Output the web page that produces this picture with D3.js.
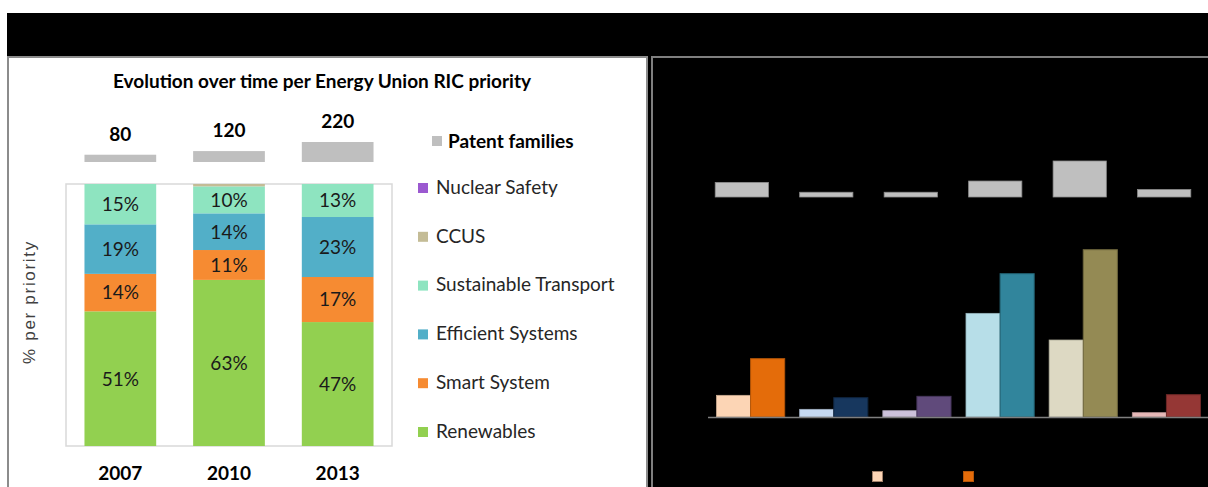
<!DOCTYPE html>
<html>
<head>
<meta charset="utf-8">
<script src="https://cdn.jsdelivr.net/npm/d3@7"></script>
<style>
  body { margin: 0; background: #fff; }
  text { font-family: Lato, "Open Sans", sans-serif; }
</style>
</head>
<body>
<script>
//Datos del panel izquierdo
var anios = ["2007", "2010", "2013"];
var familiasPatentes = [80, 120, 220];

var prioridades = ["Renewables", "Smart System", "Efficient Systems", "Sustainable Transport", "CCUS", "Nuclear Safety"];
var coloresPrioridad = ["#92d050", "#f68b32", "#52afc8", "#8ee4c0", "#c4bc96", "#9b59d0"];

//porcentaje por prioridad (mismo orden que 'prioridades'), un arreglo por anio
var porcentaje2007 = [51.4, 14.3, 18.9, 15.4, 0, 0];
var porcentaje2010 = [63.4, 11.4, 14.0, 10.3, 0.9, 0];
var porcentaje2013 = [47.3, 17.2, 22.9, 12.6, 0, 0];

//Datos del panel derecho (6 prioridades, dos series + familias de patentes)
var gruposDerecha = ["G1", "G2", "G3", "G4", "G5", "G6"];
var patentesDerecha = [43, 14, 14, 47, 106, 22];
var serieClara  = [65, 23, 19, 311, 231, 13];
var serieOscura = [175, 58, 62, 430, 502, 67];
var coloresClaros  = ["#fcd5b5", "#c6d9f1", "#ccc1da", "#b7dee8", "#ddd9c3", "#e6b9b8"];
var coloresOscuros = ["#e46c0a", "#17375e", "#604a7b", "#31859c", "#948a54", "#953735"];
var bordesOscuros  = ["#b45508", "#0f2540", "#47365c", "#236373", "#6f673e", "#6e2827"];

var svg = d3.select("body").append("svg")
            .attr("width", 1208)
            .attr("height", 487);

//Fondo negro y paneles
svg.append("rect").attr("x", 7).attr("y", 13).attr("width", 1201).attr("height", 474).style("fill", "#000");

svg.append("rect").attr("x", 8).attr("y", 57).attr("width", 639).attr("height", 440)
   .style("fill", "#fff").style("stroke", "#8c8c8c").style("stroke-width", 2);

svg.append("rect").attr("x", 652).attr("y", 57).attr("width", 570).attr("height", 440)
   .style("fill", "#000").style("stroke", "#7f7f7f").style("stroke-width", 2);

//Titulo
svg.append("text")
   .attr("x", 322).attr("y", 88)
   .attr("text-anchor", "middle")
   .style("font-size", "19px").style("font-weight", "bold").style("fill", "#000")
   .text("Evolution over time per Energy Union RIC priority");

//Escalas del panel izquierdo
var x = d3.scaleBand().domain(anios).range([66, 392]).paddingInner(0.34).paddingOuter(0.17);
var y = d3.scaleLinear().domain([0, 100]).range([446, 184]);
var hPatentes = d3.scaleLinear().domain([0, 220]).range([0, 20]);

//Caja del area de graficado
svg.append("rect").attr("x", 66).attr("y", 184).attr("width", 326).attr("height", 262)
   .style("fill", "none").style("stroke", "#d9d9d9").style("stroke-width", 1.5);

//Barras de familias de patentes (arriba)
for (i = 0; i < anios.length; i++)
{
    var alto = hPatentes(familiasPatentes[i]);
    svg.append("rect")
       .attr("x", x(anios[i]))
       .attr("y", 162 - alto)
       .attr("width", x.bandwidth())
       .attr("height", alto)
       .style("fill", "#bfbfbf");

    svg.append("text")
       .attr("x", x(anios[i]) + x.bandwidth()/2)
       .attr("y", 162 - alto - 14)
       .attr("text-anchor", "middle")
       .style("font-size", "19px").style("font-weight", "bold").style("fill", "#000")
       .text(familiasPatentes[i]);
}

//Barras apiladas
var porcentajes = [porcentaje2007, porcentaje2010, porcentaje2013];
var filas = anios.map(function(a, i) {
    var fila = {anio: a};
    prioridades.forEach(function(p, k) { fila[p] = porcentajes[i][k]; });
    return fila;
});
var pila = d3.stack().keys(prioridades)(filas);

for (k = 0; k < pila.length; k++)
{
    for (j = 0; j < pila[k].length; j++)
    {
        var seg = pila[k][j];
        if (seg[1] - seg[0] <= 0) continue;

        svg.append("rect")
           .attr("x", x(anios[j]))
           .attr("y", y(seg[1]))
           .attr("width", x.bandwidth())
           .attr("height", y(seg[0]) - y(seg[1]))
           .style("fill", coloresPrioridad[k]);

        if (seg[1] - seg[0] >= 5)
        {
            svg.append("text")
               .attr("x", x(anios[j]) + x.bandwidth()/2)
               .attr("y", (y(seg[0]) + y(seg[1]))/2)
               .attr("dy", "0.36em")
               .attr("text-anchor", "middle")
               .style("font-size", "19px").style("fill", "#1a1a1a")
               .text(Math.round(seg[1] - seg[0]) + "%");
        }
    }
}

//Etiquetas de los anios
var ejeX = svg.append("g").attr("transform", "translate(0,480)")
              .call(d3.axisBottom(x).tickSize(0).tickPadding(0));
ejeX.select(".domain").remove();
ejeX.selectAll("text")
    .attr("dy", 0)
    .style("font-family", "Lato, sans-serif")
    .style("font-size", "19px").style("font-weight", "bold").style("fill", "#000");

//Titulo del eje Y
svg.append("text")
   .attr("transform", "translate(35,302) rotate(-90)")
   .attr("text-anchor", "middle")
   .style("font-family", "'Liberation Sans', Arial, sans-serif")
   .style("font-size", "17px").style("letter-spacing", "1.7px").style("fill", "#404040")
   .text("% per priority");

//Leyenda
svg.append("rect").attr("x", 432).attr("y", 136).attr("width", 10).attr("height", 10).style("fill", "#bfbfbf");
svg.append("text").attr("x", 448).attr("y", 141).attr("dy", "0.36em")
   .style("font-size", "19px").style("font-weight", "bold").style("fill", "#000")
   .text("Patent families");

for (k = 0; k < prioridades.length; k++)
{
    var yLeyenda = 431 - k*48.8;
    svg.append("rect").attr("x", 418).attr("y", yLeyenda - 4).attr("width", 10).attr("height", 10)
       .style("fill", coloresPrioridad[k]);
    svg.append("text").attr("x", 436).attr("y", yLeyenda).attr("dy", "0.36em")
       .style("font-size", "19px").style("fill", "#262626")
       .text(prioridades[k]);
}

//Panel derecho: familias de patentes
var xp = d3.scaleBand().domain(gruposDerecha).range([700, 1206]).paddingInner(0.37).paddingOuter(0.18);
var hp = d3.scaleLinear().domain([0, 106]).range([0, 36]);

for (i = 0; i < gruposDerecha.length; i++)
{
    svg.append("rect")
       .attr("x", xp(gruposDerecha[i]))
       .attr("y", 197 - hp(patentesDerecha[i]))
       .attr("width", xp.bandwidth())
       .attr("height", hp(patentesDerecha[i]))
       .style("fill", "#bfbfbf").style("stroke", "#8c8c8c").style("stroke-width", 0.8);
}

//Panel derecho: barras agrupadas
var xg = d3.scaleBand().domain(gruposDerecha).range([709, 1208]).paddingInner(0.18).paddingOuter(0.09);
var yg = d3.scaleLinear().domain([0, 502]).range([417, 249.7]);

for (i = 0; i < gruposDerecha.length; i++)
{
    var ancho = xg.bandwidth()/2;

    svg.append("rect")
       .attr("x", xg(gruposDerecha[i]))
       .attr("y", yg(serieClara[i]))
       .attr("width", ancho)
       .attr("height", 417 - yg(serieClara[i]))
       .style("fill", coloresClaros[i]).style("stroke", d3.color(coloresClaros[i]).darker(0.6)).style("stroke-width", 0.8);

    svg.append("rect")
       .attr("x", xg(gruposDerecha[i]) + ancho)
       .attr("y", yg(serieOscura[i]))
       .attr("width", ancho)
       .attr("height", 417 - yg(serieOscura[i]))
       .style("fill", coloresOscuros[i]).style("stroke", bordesOscuros[i]).style("stroke-width", 1);
}

//Linea base
svg.append("line").attr("x1", 708).attr("y1", 417.5).attr("x2", 1208).attr("y2", 417.5)
   .style("stroke", "#7f7f7f").style("stroke-width", 1.5);

//Leyenda inferior del panel derecho
svg.append("rect").attr("x", 872.5).attr("y", 471.5).attr("width", 10).attr("height", 10)
   .style("fill", coloresClaros[0]).style("stroke", "#a0806a").style("stroke-width", 1);
svg.append("rect").attr("x", 963.5).attr("y", 471.5).attr("width", 10).attr("height", 10)
   .style("fill", coloresOscuros[0]).style("stroke", bordesOscuros[0]).style("stroke-width", 1);
</script>
</body>
</html>
